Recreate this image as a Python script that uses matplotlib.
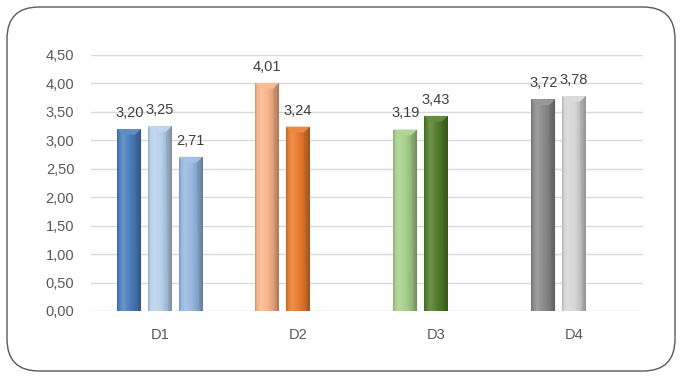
import matplotlib
matplotlib.use("Agg")
import matplotlib.pyplot as plt
from matplotlib.patches import FancyBboxPatch, Polygon
import matplotlib.colors as mcolors
import numpy as np


categories = ["D1", "D2", "D3", "D4"]
series1 = [3.20, 4.01, 3.19, 3.72]
series2 = [3.25, 3.24, 3.43, 3.78]
series3 = [2.71, None, None, None]

colors1 = ["#4a7ebb", "#f8b488", "#a6cf8a", "#8a8a8a"]
colors2 = ["#b8d0eb", "#e87a2c", "#4f7d2a", "#d6d6d6"]
colors3 = ["#95b8e0", "#ffffff", "#ffffff", "#ffffff"]

yticks = [0, 0.5, 1.0, 1.5, 2.0, 2.5, 3.0, 3.5, 4.0, 4.5]


def fmt(v):
    return f"{v:.2f}".replace(".", ",")


def shade(rgb, f):
    rgb = np.array(rgb)
    if f >= 1:
        return rgb + (1 - rgb) * (f - 1)
    return rgb * f


def gradient_bar(ax, rect, color):
    x0, y0 = rect.get_x(), rect.get_y()
    w, h = rect.get_width(), rect.get_height()
    base = mcolors.to_rgb(color)
    t = np.linspace(0, 1, 64)
    prof = np.interp(t, [0, 0.08, 0.25, 0.55, 0.85, 1.0], [0.82, 1.0, 1.18, 1.0, 0.85, 0.62])
    img = np.array([[shade(base, f) for f in prof]])
    img = np.clip(img, 0, 1)
    im = ax.imshow(img, extent=[x0, x0 + w, y0, y0 + h], aspect="auto",
                   interpolation="bilinear", zorder=3)
    im.set_clip_path(rect)
    # chamfered top
    d = 0.1
    top = y0 + h
    ax.add_patch(Polygon([(x0, top), (x0 + w, top), (x0 + w * 0.75, top - d), (x0 + w * 0.25, top - d)],
                         closed=True, facecolor=shade(base, 1.12), edgecolor="none", zorder=4))
    ax.add_patch(Polygon([(x0 + w, top), (x0 + w, y0), (x0 + w * 0.85, y0), (x0 + w * 0.75, top - d)],
                         closed=True, facecolor=shade(base, 0.75), edgecolor="none", alpha=0.5, zorder=4))


fig = plt.figure(figsize=(6.81, 3.76), dpi=100, facecolor="white")
plt.rcParams["font.family"] = ["Liberation Sans", "DejaVu Sans"]

# rounded frame (pixel coordinates)
bg = fig.add_axes([0, 0, 1, 1])
bg.set_xlim(0, 681)
bg.set_ylim(376, 0)
bg.set_axis_off()
pad = 32
fx0, fy0, fw, fh = 7, 7, 668, 364
bg.add_patch(FancyBboxPatch((fx0 + pad, fy0 + pad), fw - 2 * pad, fh - 2 * pad,
                            boxstyle=f"round,pad={pad},rounding_size={pad}",
                            facecolor="white", edgecolor="#595959", linewidth=1.0, zorder=1))

ax = fig.add_axes([91 / 681, 65 / 376, 552 / 681, 256 / 376])
ax.set_facecolor("none")
x = np.arange(len(categories))
width = 0.173
step = 0.223

for k, (vals, cols) in enumerate([(series1, colors1), (series2, colors2), (series3, colors3)]):
    for i, v in enumerate(vals):
        if v is None:
            continue
        xc = x[i] + (k - 1) * step
        bars = ax.bar(xc, v, width=width, color=cols[i], zorder=2)
        gradient_bar(ax, bars[0], cols[i])
        ax.text(xc, v + 0.16, fmt(v), ha="center", va="bottom", fontsize=10.5, color="#404040", zorder=5)

ax.set_xlim(-0.5, len(categories) - 0.5)
ax.set_ylim(0, 4.5)
ax.set_yticks(yticks)
ax.set_yticklabels([fmt(v) for v in yticks])
ax.set_xticks(x)
ax.set_xticklabels(categories)
ax.tick_params(axis="both", length=0, labelsize=10.5, colors="#595959")
ax.tick_params(axis="y", pad=12)
ax.tick_params(axis="x", pad=12)
ax.grid(axis="y", color="#d9d9d9", linewidth=1.0, zorder=0)
ax.set_axisbelow(True)
for s in ax.spines.values():
    s.set_visible(False)

fig.savefig("out.png", dpi=100)
